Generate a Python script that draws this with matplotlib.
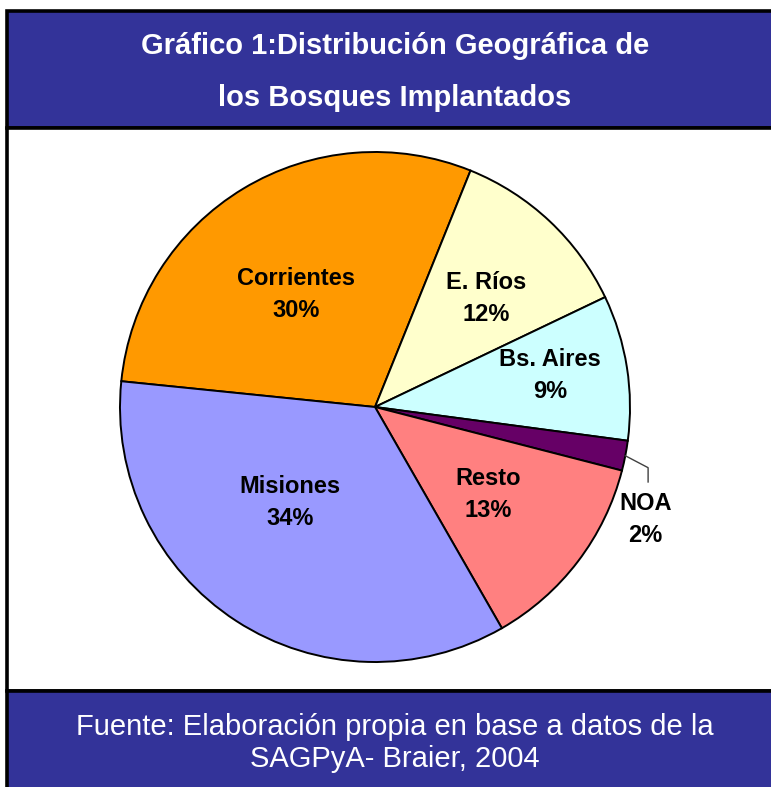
import numpy as np
import matplotlib

matplotlib.use("Agg")
import matplotlib.pyplot as plt
from matplotlib.patches import Rectangle

plt.rcParams.update({"font.family": ["Liberation Sans", "DejaVu Sans"]})

# data (percent of implanted forest area)
regions = ["Corrientes", "E. Ríos", "Bs. Aires", "NOA", "Resto", "Misiones"]
shares = [29.5, 11.8, 9.2, 1.9, 12.7, 34.9]
pct_labels = ["30%", "12%", "9%", "2%", "13%", "34%"]
colors = ["#FF9900", "#FFFFCC", "#CCFFFF", "#660066", "#FF8080", "#9999FF"]

TITLE = "Gráfico 1:Distribución Geográfica de\nlos Bosques Implantados"
SOURCE = "Fuente: Elaboración propia en base a datos de la\nSAGPyA- Braier, 2004"
HEADER = "#333399"

# label placement: (radius fraction, angle nudge in degrees) per slice
LABEL_POS = {
    "Corrientes": (0.55, 3),
    "E. Ríos": (0.62, -1.5),
    "Bs. Aires": (0.70, 2.5),
    "Resto": (0.55, 1),
    "Misiones": (0.49, -10),
}
LABEL_DROP = 0.016  # text boxes sit a touch low of their anchor in the original

W, H = 771, 787
fig = plt.figure(figsize=(W / 100, H / 100), dpi=100)
fig.patch.set_facecolor("white")


def fx(px):
    return px / W


def fy(py):
    return 1 - py / H


# frame: header band, chart area, footer band
for top, bottom, face in ((11, 128, HEADER), (128, 691, "white"), (691, H + 10, HEADER)):
    fig.add_artist(Rectangle((fx(7), fy(bottom)), 1, fy(top) - fy(bottom), transform=fig.transFigure,
                             facecolor=face, edgecolor="black", lw=2.6, zorder=0))

fig.text(fx(395), fy(72), TITLE, ha="center", va="center", color="white",
         fontsize=21, fontweight="bold", linespacing=2.09, zorder=1)
fig.text(fx(395), fy(743), SOURCE, ha="center", va="center", color="white",
         fontsize=21, linespacing=1.22, zorder=1)

# pie
cx, cy, R = 375, 407, 255
half = 1.1 * R
ax = fig.add_axes([fx(cx - half), fy(cy + half), 2 * half / W, 2 * half / H])
ax.set_zorder(5)

wedges, _ = ax.pie(shares, colors=colors, startangle=174.2, counterclock=False,
                   radius=1.0, wedgeprops={"edgecolor": "black", "linewidth": 1.4})
ax.set_xlim(-1.1, 1.1)
ax.set_ylim(-1.1, 1.1)
ax.set_aspect("equal")
ax.axis("off")

label_kw = dict(ha="center", va="center", fontsize=17, fontweight="bold", linespacing=1.5)
for w, name, pct in zip(wedges, regions, pct_labels):
    mid = 0.5 * (w.theta1 + w.theta2)
    if name in LABEL_POS:
        r, nudge = LABEL_POS[name]
        a = np.deg2rad(mid + nudge)
        ax.text(r * np.cos(a), r * np.sin(a) - LABEL_DROP, f"{name}\n{pct}", **label_kw)
    else:
        # small slice: label outside with leader line
        a = np.deg2rad(mid)
        sx, sy = np.cos(a), np.sin(a)
        ax.plot([sx, 1.071, 1.071], [sy, -0.238, -0.294], color="#404040", lw=1, clip_on=False)
        ax.text(1.06, -0.424 - LABEL_DROP, f"{name}\n{pct}", clip_on=False, **label_kw)

fig.savefig("out.png", dpi=100, facecolor=fig.get_facecolor())
